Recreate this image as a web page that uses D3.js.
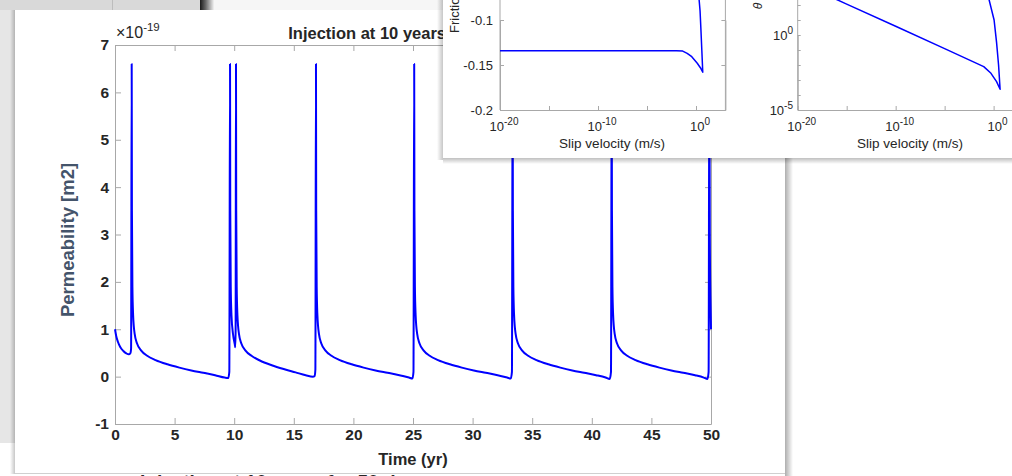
<!DOCTYPE html>
<html>
<head>
<meta charset="utf-8">
<script src="https://cdn.jsdelivr.net/npm/d3@7"></script>
<style>
  html, body { margin: 0; padding: 0; background: #fff; overflow: hidden; }
  svg { display: block; }
  text { font-family: "Liberation Sans", Arial, Helvetica, sans-serif; }
</style>
</head>
<body>
<svg id="chart" width="1012" height="476"></svg>
<script>
// ---- main figure: permeability (x1e-19 m2) against time (yr)
const timeYr = [
  0, 0.1, 0.25, 0.45, 0.7, 0.95, 1.15, 1.3, 1.35,
  1.40, 1.42, 1.46, 1.52, 1.65, 1.85, 2.2, 2.7, 3.4, 4.4, 5.4, 6.4, 7.4, 8.4, 9.2, 9.5, 9.59,
  9.65, 9.67, 9.71, 9.77, 9.9, 10.05, 10.09, 10.12,
  10.15, 10.17, 10.21, 10.27, 10.4, 10.6, 10.95, 11.45, 12.15, 13.15, 14.15, 15.15, 16.0, 16.6, 16.75, 16.81,
  16.86, 16.88, 16.92, 16.98, 17.11, 17.31, 17.66, 18.16, 18.86, 19.86, 20.86, 21.86, 22.86, 23.86, 24.66, 24.95, 25.04,
  25.10, 25.12, 25.16, 25.22, 25.35, 25.55, 25.9, 26.4, 27.1, 28.1, 29.1, 30.1, 31.1, 32.1, 32.9, 33.2, 33.3,
  33.36, 33.38, 33.42, 33.48, 33.61, 33.81, 34.16, 34.66, 35.36, 36.36, 37.36, 38.36, 39.36, 40.36, 41.16, 41.5, 41.61,
  41.67, 41.69, 41.73, 41.79, 41.92, 42.12, 42.47, 42.97, 43.67, 44.67, 45.67, 46.67, 47.67, 48.67, 49.4, 49.7, 49.8,
  49.86, 49.9, 49.95, 50.0
];
const permeability = [
  1.00, 0.86, 0.73, 0.62, 0.54, 0.49, 0.47, 0.50, 0.6,
  6.6, 3.5, 1.9, 1.3, 0.9, 0.70, 0.55, 0.44, 0.35, 0.26, 0.19, 0.13, 0.08, 0.03, -0.02, -0.03, 0.1,
  6.6, 3.5, 1.9, 1.3, 0.9, 0.68, 0.62, 1.0,
  6.6, 3.5, 1.9, 1.3, 0.9, 0.70, 0.55, 0.44, 0.34, 0.24, 0.16, 0.09, 0.03, 0.0, 0.01, 0.15,
  6.6, 3.5, 1.9, 1.3, 0.9, 0.70, 0.55, 0.44, 0.35, 0.26, 0.19, 0.13, 0.08, 0.03, -0.02, -0.04, 0.1,
  6.6, 3.5, 1.9, 1.3, 0.9, 0.70, 0.55, 0.44, 0.35, 0.26, 0.19, 0.13, 0.08, 0.03, -0.02, -0.04, 0.1,
  6.6, 3.5, 1.9, 1.3, 0.9, 0.70, 0.55, 0.44, 0.35, 0.26, 0.19, 0.13, 0.08, 0.03, -0.02, -0.05, 0.1,
  6.6, 3.5, 1.9, 1.3, 0.9, 0.70, 0.55, 0.44, 0.35, 0.26, 0.19, 0.13, 0.08, 0.03, -0.02, -0.05, 0.1,
  6.6, 3.0, 1.7, 1.0
];
const timeTicks = [0, 5, 10, 15, 20, 25, 30, 35, 40, 45, 50];
const permTicks = [-1, 0, 1, 2, 3, 4, 5, 6, 7];

// ---- window on top: friction and theta against slip velocity (m/s)
const frictionVel = [1e-20, 1e-15, 1e-10, 1e-5, 1e-2, 0.044, 0.126, 0.37, 1.35, 2.8, 4.9, 3.98, 3.16, 2.6, 2.1, 1.9];
const friction = [-0.1341, -0.1341, -0.1341, -0.1341, -0.1341, -0.1345, -0.137, -0.1408, -0.148, -0.153, -0.158, -0.135, -0.11, -0.09, -0.078, -0.07];
const thetaVel = [1e-20, 1e-15, 1e-10, 1e-5, 0.098, 0.54, 2.0, 4.6, 3.2, 2.0, 1.12, 0.35, 0.25];
const theta = [3.5e3, 115, 3.8, 0.123, 7.8e-3, 2.8e-3, 7.8e-4, 2.4e-4, 0.01, 0.32, 10, 215, 630];
const frictionTicks = [-0.2, -0.15, -0.1];
const velTicks = [1e-20, 1e-15, 1e-10, 1e-5, 1];
const velLabelExp = [-20, -10, 0];
const thetaTicks = [1e-5, 1e-4, 1e-3, 1e-2, 1e-1, 1, 10, 100];
const thetaLabelExp = [-5, 0];

const svg = d3.select("#chart");
const axisGray = "#a8a8a8";
const ink = "#262626";

const defs = svg.append("defs");
function grad(id, x2, y2, stops) {
  const g = defs.append("linearGradient").attr("id", id)
    .attr("x1", 0).attr("y1", 0).attr("x2", x2).attr("y2", y2);
  stops.forEach(s => g.append("stop").attr("offset", s[0]).attr("stop-color", "#000").attr("stop-opacity", s[1]));
}
grad("shadowR", 1, 0, [[0, 0.32], [1, 0]]);
grad("shadowL", 1, 0, [[0, 0], [1, 0.22]]);
grad("shadowB", 0, 1, [[0, 0.25], [1, 0]]);
grad("darkEdge", 1, 0, [[0, 0.9], [0.4, 0.6], [1, 0.05]]);

// desktop behind the windows
svg.append("rect").attr("width", 1012).attr("height", 476).attr("fill", "#fff");
svg.append("rect").attr("x", 0).attr("y", 0).attr("width", 15).attr("height", 443).attr("fill", "#e6e6e6");
svg.append("rect").attr("x", 0).attr("y", 0).attr("width", 200).attr("height", 10).attr("fill", "#d9d9d9");
svg.append("rect").attr("x", 112).attr("y", 0).attr("width", 1).attr("height", 10).attr("fill", "#bdbdbd");
svg.append("rect").attr("x", 200).attr("y", 0).attr("width", 14).attr("height", 10).attr("fill", "url(#darkEdge)");
svg.append("rect").attr("x", 214).attr("y", 0).attr("width", 229).attr("height", 10).attr("fill", "#f6f6f6");

// title of the figure below, only its top shows
svg.append("text").attr("x", 140).attr("y", 488)
  .attr("font-size", 19).attr("font-weight", "bold").attr("fill", ink)
  .text("Injection at 10 years for 50 days");

// main window
svg.append("rect").attr("x", 10).attr("y", 10).attr("width", 5).attr("height", 464).attr("fill", "url(#shadowL)");
svg.append("rect").attr("x", 15).attr("y", 10).attr("width", 770).attr("height", 463).attr("fill", "#fff");
svg.append("rect").attr("x", 785).attr("y", 10).attr("width", 8).attr("height", 466).attr("fill", "url(#shadowR)");
svg.append("rect").attr("x", 15).attr("y", 473).attr("width", 770).attr("height", 1).attr("fill", "#d0d0d0");

const x = d3.scaleLinear().domain([0, 50]).range([115, 711]);
const y = d3.scaleLinear().domain([-1, 7]).range([424, 45]);
const plain = d => String(d);

const main = svg.append("g");
function styleAxis(g) {
  g.selectAll("path, line").attr("stroke", axisGray).attr("stroke-width", 1);
  g.selectAll("text").attr("fill", ink).attr("font-size", 15.5).attr("font-weight", "bold")
    .attr("font-family", "'Liberation Sans', Arial, sans-serif");
}
main.append("g").attr("transform", "translate(0,424)")
  .call(d3.axisBottom(x).tickValues(timeTicks).tickFormat(plain).tickSizeInner(-6).tickSizeOuter(0).tickPadding(5))
  .call(styleAxis);
main.append("g").attr("transform", "translate(0,45)")
  .call(d3.axisTop(x).tickValues(timeTicks).tickFormat("").tickSizeInner(-6).tickSizeOuter(0))
  .call(styleAxis);
main.append("g").attr("transform", "translate(115,0)")
  .call(d3.axisLeft(y).tickValues(permTicks).tickFormat(plain).tickSizeInner(-6).tickSizeOuter(0).tickPadding(6))
  .call(styleAxis);
main.append("g").attr("transform", "translate(711,0)")
  .call(d3.axisRight(y).tickValues(permTicks).tickFormat("").tickSizeInner(-6).tickSizeOuter(0))
  .call(styleAxis);

main.append("path")
  .datum(timeYr.map((t, i) => [t, permeability[i]]))
  .attr("fill", "none").attr("stroke", "#0000ff").attr("stroke-width", 2).attr("stroke-linejoin", "round")
  .attr("d", d3.line().x(d => x(d[0])).y(d => y(d[1])).curve(d3.curveMonotoneX));

// exponent, title and axis labels
const expo = main.append("text").attr("x", 116).attr("y", 38).attr("font-size", 16).attr("fill", ink);
expo.append("tspan").text("\u00d710");
expo.append("tspan").attr("font-size", 11.5).attr("dy", -7).text("-19");
main.append("text").attr("x", 413).attr("y", 39).attr("text-anchor", "middle")
  .attr("font-size", 16.5).attr("font-weight", "bold").attr("fill", ink)
  .text("Injection at 10 years for 50 days");
main.append("text").attr("x", 413).attr("y", 465).attr("text-anchor", "middle")
  .attr("font-size", 16.5).attr("font-weight", "bold").attr("fill", ink)
  .text("Time (yr)");
main.append("text").attr("transform", "translate(74,240) rotate(-90)").attr("text-anchor", "middle")
  .attr("font-family", "'Open Sans', sans-serif").attr("font-size", 18.5).attr("font-weight", 600)
  .attr("fill", "#44546a").text("Permeability [m2]");

// ---- window on top right
svg.append("rect").attr("x", 437).attr("y", 0).attr("width", 6).attr("height", 160).attr("fill", "url(#shadowL)");
svg.append("rect").attr("x", 443).attr("y", 158).attr("width", 569).attr("height", 6).attr("fill", "url(#shadowB)");
svg.append("rect").attr("x", 443).attr("y", 0).attr("width", 569).attr("height", 158).attr("fill", "#fff");
defs.append("clipPath").attr("id", "winClip").append("rect")
  .attr("x", 443).attr("y", 0).attr("width", 569).attr("height", 158);
const win = svg.append("g").attr("clip-path", "url(#winClip)");

function styleSmall(g) {
  g.selectAll("path, line").attr("stroke", axisGray).attr("stroke-width", 1);
  g.selectAll("text").attr("fill", ink).attr("font-size", 13);
}
function powLabel(g, px, py, e, anchor) {
  const t = g.append("text").attr("x", px).attr("y", py).attr("text-anchor", anchor)
    .attr("font-size", 13).attr("fill", ink);
  t.append("tspan").text("10");
  t.append("tspan").attr("font-size", 10).attr("dy", -6).text(e);
}

// friction panel
const xf = d3.scaleLog().domain([1e-20, 1e3]).range([500, 725.4]);
const yf = d3.scaleLinear().domain([-0.2, -0.1]).range([110, 20]);
win.append("g").attr("transform", "translate(0,110)")
  .call(d3.axisBottom(xf).tickValues(velTicks).tickFormat("").tickSizeInner(-4).tickSizeOuter(0))
  .call(styleSmall);
win.append("g").attr("transform", "translate(500,0)")
  .call(d3.axisLeft(yf).tickValues(frictionTicks).tickFormat(plain).tickSizeInner(-4).tickSizeOuter(0).tickPadding(7))
  .call(styleSmall);
win.append("line").attr("x1", 500).attr("x2", 500).attr("y1", 0).attr("y2", 110).attr("stroke", axisGray);
win.append("g").attr("transform", "translate(725.4,0)")
  .call(d3.axisRight(yf).tickValues(frictionTicks).tickFormat("").tickSizeInner(-4).tickSizeOuter(0))
  .call(styleSmall);
win.append("line").attr("x1", 725.4).attr("x2", 725.4).attr("y1", 0).attr("y2", 110).attr("stroke", axisGray);
velLabelExp.forEach(e => powLabel(win, xf(Math.pow(10, e)) + 4, 131, e, "middle"));
win.append("text").attr("x", 612).attr("y", 148).attr("text-anchor", "middle")
  .attr("font-size", 13.5).attr("fill", ink).text("Slip velocity (m/s)");
win.append("text").attr("transform", "translate(459,33) rotate(-90)")
  .attr("font-size", 13).attr("fill", ink).text("Friction coefficient");
win.append("path")
  .datum(frictionVel.map((v, i) => [v, friction[i]]))
  .attr("fill", "none").attr("stroke", "#0000ff").attr("stroke-width", 1.5).attr("stroke-linejoin", "round")
  .attr("d", d3.line().x(d => xf(d[0])).y(d => yf(d[1])));

// theta panel
const xt = d3.scaleLog().domain([1e-20, 1e3]).range([797.7, 1023]);
const yt = d3.scaleLog().domain([1e-5, 1]).range([110, 35]);
win.append("g").attr("transform", "translate(0,110)")
  .call(d3.axisBottom(xt).tickValues(velTicks).tickFormat("").tickSizeInner(-4).tickSizeOuter(0))
  .call(styleSmall);
win.append("g").attr("transform", "translate(797.7,0)")
  .call(d3.axisLeft(yt).tickValues(thetaTicks).tickFormat("").tickSizeInner(-3).tickSizeOuter(0))
  .call(styleSmall);
win.append("line").attr("x1", 797.7).attr("x2", 797.7).attr("y1", 0).attr("y2", 110).attr("stroke", axisGray);
velLabelExp.forEach(e => powLabel(win, xt(Math.pow(10, e)) + 4, 131, e, "middle"));
thetaLabelExp.forEach(e => powLabel(win, 793, yt(Math.pow(10, e)) + 5, e, "end"));
win.append("text").attr("x", 910).attr("y", 148).attr("text-anchor", "middle")
  .attr("font-size", 13.5).attr("fill", ink).text("Slip velocity (m/s)");
win.append("text").attr("transform", "translate(762,6) rotate(-90)").attr("text-anchor", "middle")
  .attr("font-size", 12).attr("font-style", "italic").attr("fill", ink).text("\u03b8");
win.append("path")
  .datum(thetaVel.map((v, i) => [v, theta[i]]))
  .attr("fill", "none").attr("stroke", "#0000ff").attr("stroke-width", 1.5).attr("stroke-linejoin", "round")
  .attr("d", d3.line().x(d => xt(d[0])).y(d => yt(d[1])));
</script>
</body>
</html>
